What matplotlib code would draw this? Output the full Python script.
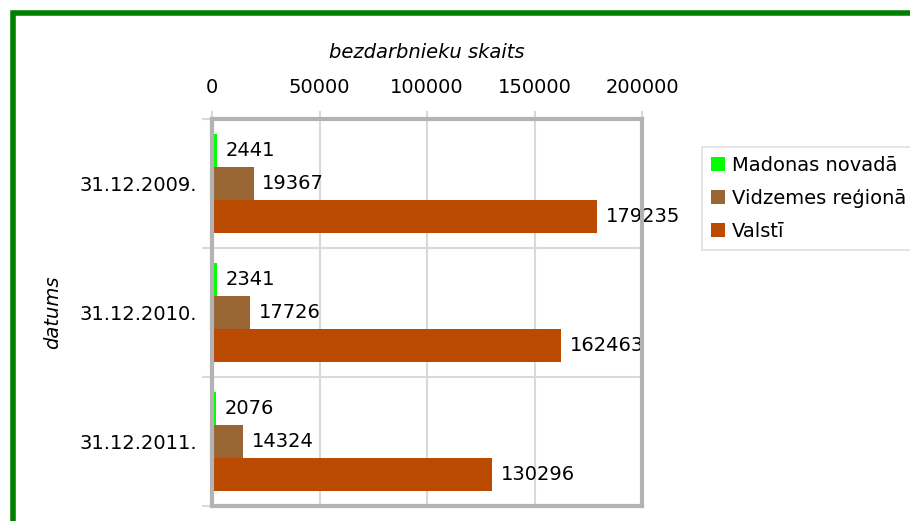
import matplotlib.pyplot as plt
import numpy as np
from matplotlib.patches import Rectangle

dates = ['31.12.2009.', '31.12.2010.', '31.12.2011.']
madona = [2441, 2341, 2076]
vidzeme = [19367, 17726, 14324]
valsts = [179235, 162463, 130296]
series_names = ['Madonas novadā', 'Vidzemes reģionā', 'Valstī']
colors = ['#00ff00', '#996633', '#b94a00']
xticks = [0, 50000, 100000, 150000, 200000]

fig = plt.figure(figsize=(9.1, 5.21), dpi=100)
ax = fig.add_axes([212 / 910, 1 - 506 / 521, 430 / 910, 387 / 521])

y = np.arange(len(dates))
h = 0.256
for i, (vals, name, c) in enumerate(zip([madona, vidzeme, valsts], series_names, colors)):
    pos = y + (i - 1) * h
    ax.barh(pos, vals, height=h, color=c, label=name, zorder=3)
    for p, v in zip(pos, vals):
        ax.text(v + 4000, p, str(v), va='center', ha='left', fontsize=14, zorder=2)

ax.set_xlim(0, 200000)
ax.set_ylim(2.5, -0.5)
ax.xaxis.tick_top()
ax.xaxis.set_label_position('top')
ax.set_xticks(xticks)
ax.set_xticklabels([str(t) for t in xticks], fontsize=14)
ax.tick_params(axis='x', length=6, color='#d9d9d9', width=1.5, pad=10)
ax.set_yticks(y)
ax.set_yticklabels(dates, fontsize=14)
ax.tick_params(axis='y', which='major', length=0, pad=11)
ax.set_yticks([-0.5, 0.5, 1.5, 2.5], minor=True)
ax.tick_params(axis='y', which='minor', length=7, color='#d9d9d9', width=1.5)
ax.grid(axis='x', color='#d9d9d9', lw=1.5, zorder=0)
ax.grid(axis='y', which='minor', color='#d9d9d9', lw=1.5, zorder=0)
for s in ax.spines.values():
    s.set_color('#b3b3b3')
    s.set_linewidth(3)
    s.set_zorder(5)

ax.set_xlabel('bezdarbnieku skaits', fontsize=14, style='italic', labelpad=14)
ax.set_ylabel('datums', fontsize=14, style='italic', labelpad=12)

leg = fig.legend(loc='upper left', bbox_to_anchor=(702 / 910, 1 - 147 / 521),
                 fontsize=14, frameon=True, fancybox=False, handlelength=0.75,
                 handleheight=0.75, handletextpad=0.35, borderpad=0.45,
                 labelspacing=0.72, borderaxespad=0)
leg.get_frame().set_edgecolor('#d9d9d9')
leg.get_frame().set_linewidth(1.2)

fig.patches.append(Rectangle((12.5 / 910, -0.1), 1.2, 1 - 12.5 / 521 + 0.1,
                             transform=fig.transFigure, fill=False,
                             edgecolor='#008000', lw=4, clip_on=False))

plt.savefig('out.png', dpi=100)
